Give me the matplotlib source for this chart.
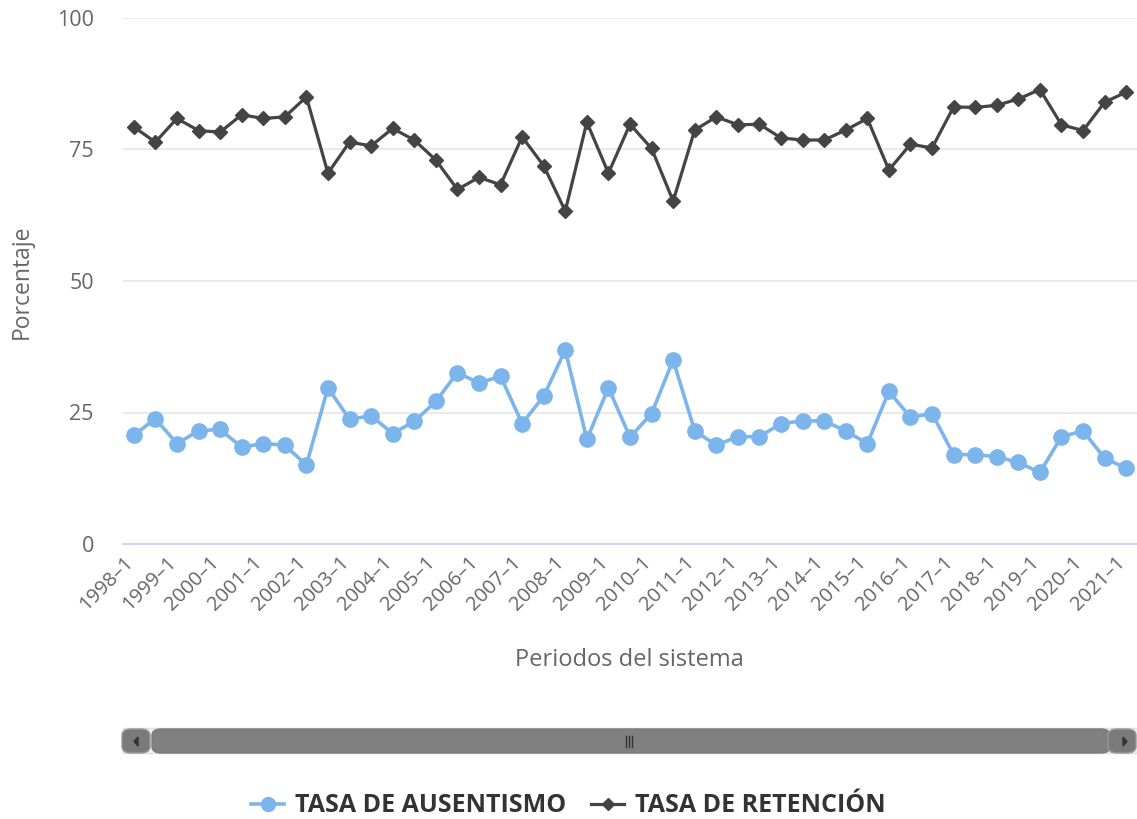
import matplotlib.pyplot as plt
from matplotlib.patches import FancyBboxPatch, Rectangle, Polygon
from matplotlib.lines import Line2D

plt.rcParams['font.family'] = ['Open Sans', 'DejaVu Sans']

# periodos semestrales 1998-1 .. 2021-1
periodos = [f"{a}–{s}" for a in range(1998, 2022) for s in (1, 2)][:-1]

ausentismo = [20.7, 23.8, 19.1, 21.5, 21.8, 18.4, 19.1, 18.8, 15.0, 29.7,
              23.7, 24.4, 21.0, 23.3, 27.1, 32.6, 30.6, 31.9, 22.9, 28.1,
              36.9, 19.9, 29.7, 20.3, 24.8, 35.0, 21.5, 18.8, 20.4, 20.4,
              22.9, 23.4, 23.4, 21.5, 19.1, 29.0, 24.1, 24.8, 17.0, 17.0,
              16.6, 15.5, 13.6, 20.4, 21.5, 16.3, 14.4]

retencion = [79.3, 76.4, 80.9, 78.6, 78.3, 81.6, 80.9, 81.2, 85.0, 70.5,
             76.4, 75.7, 79.0, 76.8, 73.0, 67.4, 69.7, 68.3, 77.4, 71.9,
             63.3, 80.2, 70.5, 79.8, 75.2, 65.2, 78.7, 81.2, 79.7, 79.8,
             77.2, 76.8, 76.8, 78.7, 80.9, 71.1, 76.0, 75.3, 83.1, 83.0,
             83.4, 84.6, 86.4, 79.7, 78.6, 84.0, 85.9]

azul = '#7cb5ec'
negro = '#434348'
gris = '#666666'

W, H = 1137, 819
fig = plt.figure(figsize=(W / 100, H / 100), dpi=100)
ax = fig.add_axes([123 / W, 1 - 544 / H, 1 - 123 / W, (544 - 18) / H])

x = list(range(len(periodos)))
ax.plot(x, ausentismo, color=azul, lw=2.6, marker='o', ms=11, zorder=3)
ax.plot(x, retencion, color=negro, lw=2.3, marker='D', ms=6.8, zorder=3)

ax.set_xlim(-0.5, len(periodos) - 0.5)
ax.set_ylim(0, 100)
ax.set_yticks([0, 25, 50, 75, 100])
ax.grid(axis='y', color='#e6e6e6', lw=1.2)
ax.set_axisbelow(True)
for s in ['top', 'right', 'left']:
    ax.spines[s].set_visible(False)
ax.spines['bottom'].set_color('#ccd6eb')
ax.spines['bottom'].set_linewidth(1.5)

ax.set_xticks(x[::2])
ax.set_xticklabels(periodos[::2], rotation=45, ha='right', va='baseline',
                   rotation_mode='anchor')
ax.tick_params(axis='x', length=0, pad=14, labelsize=14.5, labelcolor=gris)
ax.tick_params(axis='y', length=0, pad=21, labelsize=15.5, labelcolor=gris)
for t in ax.get_yticklabels():
    t.set_horizontalalignment('right')

fig.text(22 / W, 1 - 282 / H, 'Porcentaje', rotation=90, ha='center', va='center',
         fontsize=16.5, color=gris)
fig.text(629 / W, 1 - 660 / H, 'Periodos del sistema', ha='center', va='center',
         fontsize=17, color=gris)

# barra de desplazamiento
def caja(x0, y0, x1, y1, **kw):
    return FancyBboxPatch((x0 / W, 1 - y1 / H), (x1 - x0) / W, (y1 - y0) / H,
                          transform=fig.transFigure, **kw)

fig.patches.append(Rectangle((123 / W, 1 - 753 / H), (W - 123) / W, 25 / H,
                             transform=fig.transFigure, facecolor='#f2f2f2',
                             edgecolor='#dddddd', lw=1))
fig.patches.append(caja(152, 729, 1110, 753, boxstyle='round,pad=0,rounding_size=0.008',
                        facecolor='#808080', edgecolor='#7a7a7a', lw=1))
fig.patches.append(caja(122, 729, 150, 753, boxstyle='round,pad=0,rounding_size=0.008',
                        facecolor='#7a7a7a', edgecolor='#999999', lw=1))
fig.patches.append(caja(1108, 729, 1136, 753, boxstyle='round,pad=0,rounding_size=0.008',
                        facecolor='#7a7a7a', edgecolor='#999999', lw=1))
fig.patches.append(Polygon([(138 / W, 1 - 737 / H), (138 / W, 1 - 746 / H), (134 / W, 1 - 741.5 / H)],
                           closed=True, transform=fig.transFigure, color='#333333'))
fig.patches.append(Polygon([(1123 / W, 1 - 737 / H), (1123 / W, 1 - 746 / H), (1127 / W, 1 - 741.5 / H)],
                           closed=True, transform=fig.transFigure, color='#333333'))
for dx in (-3, 0, 3):
    fig.add_artist(Line2D([(629 + dx) / W] * 2, [1 - 736 / H, 1 - 747 / H],
                          transform=fig.transFigure, color='#333333', lw=1))

# leyenda
handles = [Line2D([], [], color=azul, lw=2.6, marker='o', ms=10),
           Line2D([], [], color=negro, lw=2.3, marker='D', ms=6.5)]
fig.legend(handles, ['TASA DE AUSENTISMO', 'TASA DE RETENCIÓN'], loc='center',
           bbox_to_anchor=(0.5, 1 - 806 / H), ncol=2, frameon=False, handlelength=1.3,
           handletextpad=0.45, columnspacing=1.0,
           prop={'size': 18, 'weight': 'bold'}, labelcolor='#333333')

fig.savefig('out.png', dpi=100)
